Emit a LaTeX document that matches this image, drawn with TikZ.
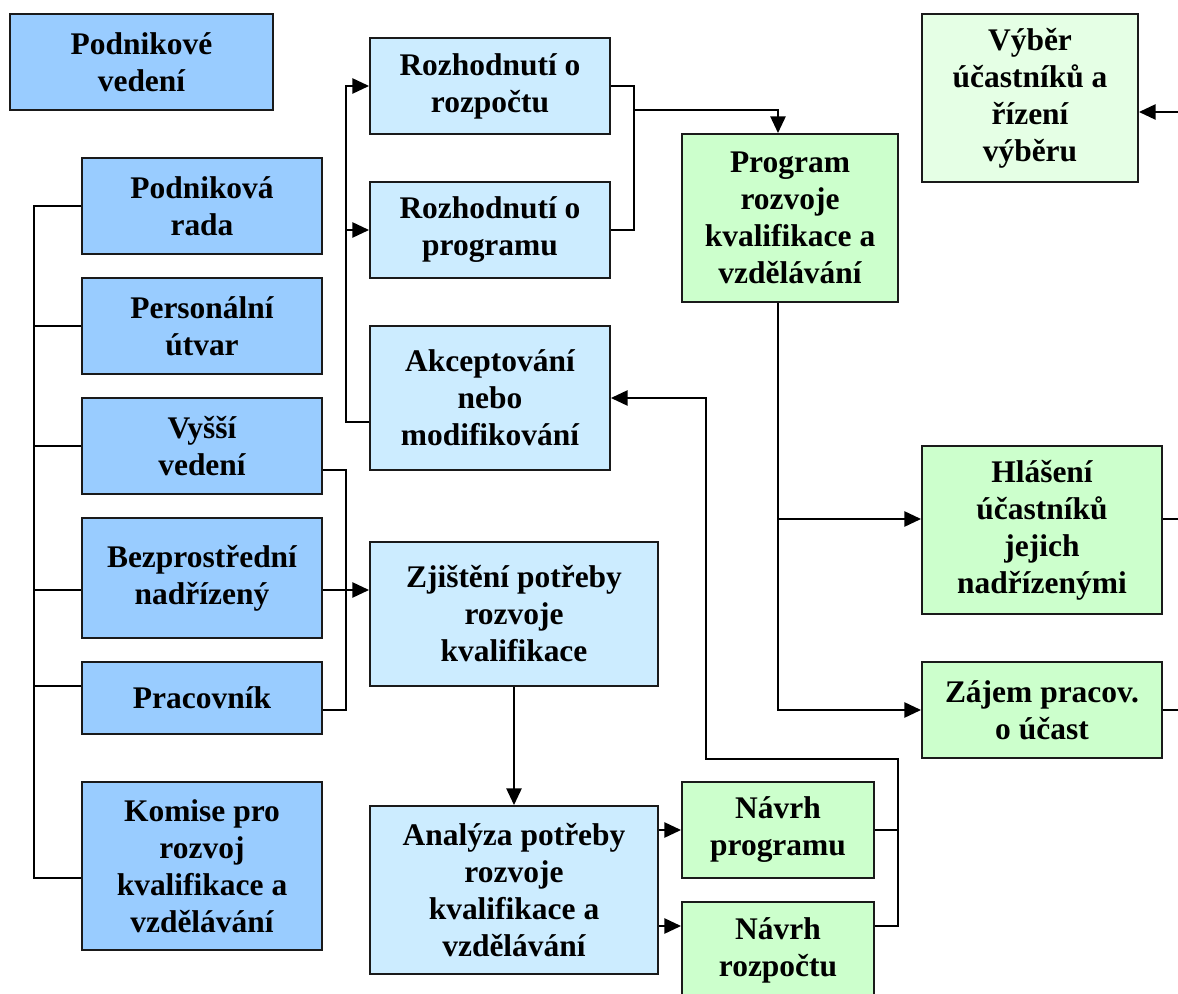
\documentclass[tikz,border=0pt]{standalone}
\usepackage{fontspec}
\setmainfont{Liberation Serif}
\usetikzlibrary{arrows.meta}
\definecolor{blueA}{HTML}{99CCFF}
\definecolor{blueB}{HTML}{CCECFF}
\definecolor{greenA}{HTML}{CCFFCC}
\definecolor{greenB}{HTML}{E5FFE5}
\definecolor{edgecol}{HTML}{1A1A1A}
\tikzset{
  box/.style={draw=edgecol, line width=1.5pt, inner sep=0pt, align=center,
    font=\fontsize{23.6pt}{27.75pt}\selectfont\bfseries},
  bluea/.style={box, fill=blueA},
  blueb/.style={box, fill=blueB},
  greena/.style={box, fill=greenA},
  greenb/.style={box, fill=greenB},
  conn/.style={draw=black, line width=1.2pt},
  arr/.style={conn, -{Triangle[length=12.5pt,width=11.5pt]}},
}
\begin{document}
\begin{tikzpicture}[x=0.75pt, y=-0.75pt]
\clip (0,0) rectangle (1178,994);

% left column
\node[bluea, minimum width=197.25pt, minimum height=72pt] (pv) at (141.5,62) {Podnikové\\vedení};
\node[bluea, minimum width=180pt, minimum height=72pt] (rada) at (202,206) {Podniková\\rada};
\node[bluea, minimum width=180pt, minimum height=72pt] (pers) at (202,326) {Personální\\útvar};
\node[bluea, minimum width=180pt, minimum height=72pt] (vyssi) at (202,446) {Vyšší\\vedení};
\node[bluea, minimum width=180pt, minimum height=90pt] (bezp) at (202,578) {Bezprostřední\\nadřízený};
\node[bluea, minimum width=180pt, minimum height=54pt] (prac) at (202,698) {Pracovník};
\node[bluea, minimum width=180pt, minimum height=126pt] (komise) at (202,866) {Komise pro\\rozvoj\\kvalifikace a\\vzdělávání};

% middle column
\node[blueb, minimum width=180pt, minimum height=72pt] (rozp) at (490,86) {Rozhodnutí o\\rozpočtu};
\node[blueb, minimum width=180pt, minimum height=72pt] (prog) at (490,230) {Rozhodnutí o\\programu};
\node[blueb, minimum width=180pt, minimum height=108pt] (akcept) at (490,398) {Akceptování\\nebo\\modifikování};
\node[blueb, minimum width=216pt, minimum height=108pt] (zjist) at (514,614) {Zjištění potřeby\\rozvoje\\kvalifikace};
\node[blueb, minimum width=216pt, minimum height=126pt] (analyza) at (514,890) {Analýza potřeby\\rozvoje\\kvalifikace a\\vzdělávání};

% green boxes
\node[greena, minimum width=144pt, minimum height=72pt] (nprog) at (778,830) {Návrh\\programu};
\node[greena, minimum width=144pt, minimum height=72pt] (nrozp) at (778,950) {Návrh\\rozpočtu};
\node[greena, minimum width=162pt, minimum height=126pt] (progr) at (790,218) {Program\\rozvoje\\kvalifikace a\\vzdělávání};
\node[greenb, minimum width=162pt, minimum height=126pt] (vyber) at (1030,98) {Výběr\\účastníků a\\řízení\\výběru};
\node[greena, minimum width=180pt, minimum height=126pt] (hlas) at (1042,530) {Hlášení\\účastníků\\jejich\\nadřízenými};
\node[greena, minimum width=180pt, minimum height=72pt] (zajem) at (1042,710) {Zájem pracov.\\o účast};

% bus lines
\coordinate (lbus) at (34,0);
\coordinate (mbus) at (346,0);
\coordinate (rbus) at (634,0);
\coordinate (fbus) at (898,0);
\coordinate (fb2) at (706,0);
\coordinate (edge) at (1178,0);

\coordinate (bezpW) at ([yshift=-9pt]bezp.west);
\coordinate (pracW) at ([yshift=9pt]prac.west);
\coordinate (komW) at ([yshift=-9pt]komise.west);
\coordinate (vyssiE) at ([yshift=-18pt]vyssi.east);
\coordinate (pracE) at ([yshift=-9pt]prac.east);
\coordinate (bezpE) at ([yshift=-9pt]bezp.east);
\coordinate (zjistW) at ([yshift=18pt]zjist.west);
\coordinate (akceptW) at ([yshift=-18pt]akcept.west);
\coordinate (rozpE) at ([yshift=-18pt]rozp.east);
\coordinate (progrN) at ([xshift=-9pt]progr.north);
\coordinate (progrS) at ([xshift=-9pt]progr.south);
\coordinate (hlasW) at ([yshift=8.25pt]hlas.west);
\coordinate (hlasE) at ([yshift=8.25pt]hlas.east);
\coordinate (nrozpW) at ([yshift=18pt]nrozp.west);
\coordinate (nrozpE) at ([yshift=18pt]nrozp.east);
\coordinate (vyberE) at ([yshift=-10.5pt]vyber.east);

% left bus
\draw[conn] (rada.west) -| (lbus |- komW) -- (komW);
\draw[conn] (pers.west -| lbus) -- (pers.west);
\draw[conn] (vyssi.west -| lbus) -- (vyssi.west);
\draw[conn] (bezpW -| lbus) -- (bezpW);
\draw[conn] (pracW -| lbus) -- (pracW);

% lower bracket to needs identification
\draw[conn] (vyssiE) -| (mbus |- pracE) -- (pracE);
\draw[arr] (bezpE) -- (zjistW);

% upper bracket to decisions
\draw[arr] (akceptW) -| (mbus |- rozp.west) -- (rozp.west);
\draw[arr] (prog.west -| mbus) -- (prog.west);

% decisions to programme
\draw[conn] (rozp.east) -| (rbus |- prog.east) -- (prog.east);
\draw[arr] (rozpE -| rbus) -| (progrN);

% programme to reports and interest
\draw[arr] (progrS) |- (zajem.west);
\draw[arr] (progrS |- hlasW) -- (hlasW);

% needs chain
\draw[arr] (zjist.south) -- (analyza.north);
\draw[arr] (analyza.east |- nprog.west) -- (nprog.west);
\draw[arr] (analyza.east |- nrozpW) -- (nrozpW);

% proposals back to acceptance
\draw[conn] (nprog.east) -| (fbus |- nrozpE) -- (nrozpE);
\draw[arr] (nprog.east -| fbus) |- (fb2 |- zajem.south) -- (fb2 |- akcept.east) -- (akcept.east);

% right edge
\draw[arr] (vyberE -| edge) -- (vyberE);
\draw[conn] (hlasE) -- (hlasE -| edge);
\draw[conn] (zajem.east) -- (zajem.east -| edge);
\end{tikzpicture}
\end{document}
